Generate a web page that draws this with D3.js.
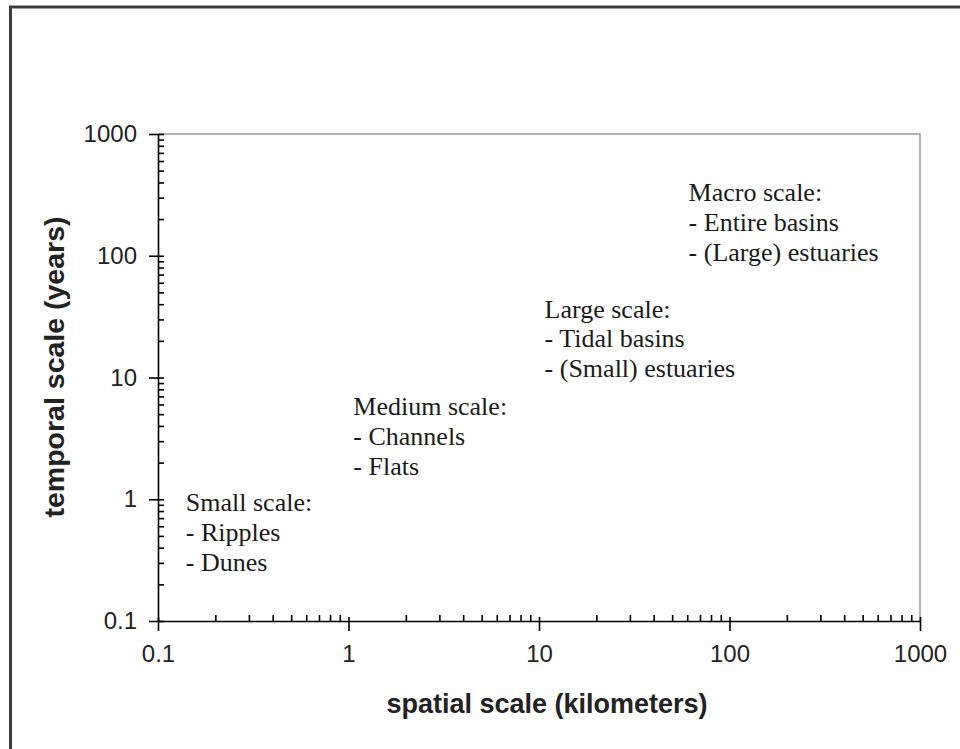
<!DOCTYPE html>
<html>
<head>
<meta charset="utf-8">
<script src="https://cdn.jsdelivr.net/npm/d3@7"></script>
<style>
  html, body { margin: 0; padding: 0; background: #fff; }
  svg { display: block; }
</style>
</head>
<body>
<svg id="chart" width="960" height="749"></svg>
<script>
// Scale regimes: spatial extent (km) and temporal extent (years) of each group
const groupTitles = ["Small scale:", "Medium scale:", "Large scale:", "Macro scale:"];
const groupItems = [
  ["- Ripples", "- Dunes"],
  ["- Channels", "- Flats"],
  ["- Tidal basins", "- (Small) estuaries"],
  ["- Entire basins", "- (Large) estuaries"]
];
const spatialKm = [0.14, 1.06, 10.7, 61];
const temporalYears = [0.8, 4.9, 31, 280];

const majorTicks = [0.1, 1, 10, 100, 1000];
const majorTickLabels = ["0.1", "1", "10", "100", "1000"];
const minorMultipliers = [2, 3, 4, 5, 6, 7, 8, 9];

const xTitle = "spatial scale (kilometers)";
const yTitle = "temporal scale (years)";

const svg = d3.select("#chart");

// outer frame (only left and top edges fall inside the page)
svg.append("path")
  .attr("d", "M10.5,760 L10.5,7 L970,7")
  .attr("fill", "none")
  .attr("stroke", "#3c3c3c")
  .attr("stroke-width", 3);

const x = d3.scaleLog().domain([0.1, 1000]).range([158, 920]);
const y = d3.scaleLog().domain([0.1, 1000]).range([621, 134]);

const minorTicks = [];
majorTicks.slice(0, -1).forEach(d => minorMultipliers.forEach(m => minorTicks.push(+(d * m).toPrecision(3))));

// plot frame: grey top and right edges
svg.append("path")
  .attr("d", `M${x(0.1)},${y(1000)} L${x(1000)},${y(1000)} L${x(1000)},${y(0.1)}`)
  .attr("fill", "none")
  .attr("stroke", "#9a9a9a")
  .attr("stroke-width", 1.5);

const fmt = d => majorTickLabels[majorTicks.indexOf(d)];

// x axis
const gx = svg.append("g").attr("transform", `translate(0,${y(0.1)})`);
gx.append("g")
  .call(d3.axisBottom(x).tickValues(minorTicks).tickSizeInner(-6).tickSizeOuter(0).tickFormat(""))
  .call(g => g.select(".domain").remove());
gx.append("g")
  .call(d3.axisBottom(x).tickValues(majorTicks).tickSizeInner(10).tickSizeOuter(0).tickPadding(14).tickFormat(fmt))
  .call(g => g.selectAll(".tick line").attr("y1", -4));
gx.selectAll("path, line").attr("stroke", "#000").attr("stroke-width", 1.6);
gx.selectAll("text")
  .attr("font-family", "Liberation Sans, Arial, sans-serif")
  .attr("font-size", 24)
  .attr("fill", "#222");

// y axis
const gy = svg.append("g").attr("transform", `translate(${x(0.1)},0)`);
gy.append("g")
  .call(d3.axisLeft(y).tickValues(minorTicks).tickSizeInner(-6).tickSizeOuter(0).tickFormat(""))
  .call(g => g.select(".domain").remove());
gy.append("g")
  .call(d3.axisLeft(y).tickValues(majorTicks).tickSizeInner(9).tickSizeOuter(0).tickPadding(12).tickFormat(fmt))
  .call(g => g.selectAll(".tick line").attr("x1", 6));
gy.selectAll("path, line").attr("stroke", "#000").attr("stroke-width", 1.6);
gy.selectAll("text")
  .attr("font-family", "Liberation Sans, Arial, sans-serif")
  .attr("font-size", 24)
  .attr("fill", "#222");

// axis titles
svg.append("text")
  .attr("x", 547).attr("y", 713)
  .attr("text-anchor", "middle")
  .attr("font-family", "Liberation Sans, Arial, sans-serif")
  .attr("font-weight", "bold")
  .attr("font-size", 27)
  .attr("fill", "#222")
  .text(xTitle);

svg.append("text")
  .attr("transform", "translate(64,367) rotate(-90)")
  .attr("text-anchor", "middle")
  .attr("font-family", "Liberation Sans, Arial, sans-serif")
  .attr("font-weight", "bold")
  .attr("font-size", 28.5)
  .attr("fill", "#222")
  .text(yTitle);

// regime annotations
const lineStep = 29.8;
groupTitles.forEach((title, i) => {
  const t = svg.append("text")
    .attr("x", x(spatialKm[i]))
    .attr("y", y(temporalYears[i]))
    .attr("font-family", "Liberation Serif, Times New Roman, serif")
    .attr("font-size", 26)
    .attr("fill", "#1a1a1a");
  [title].concat(groupItems[i]).forEach((line, j) => {
    t.append("tspan")
      .attr("x", x(spatialKm[i]))
      .attr("dy", j === 0 ? 0 : lineStep)
      .text(line);
  });
});
</script>
</body>
</html>
